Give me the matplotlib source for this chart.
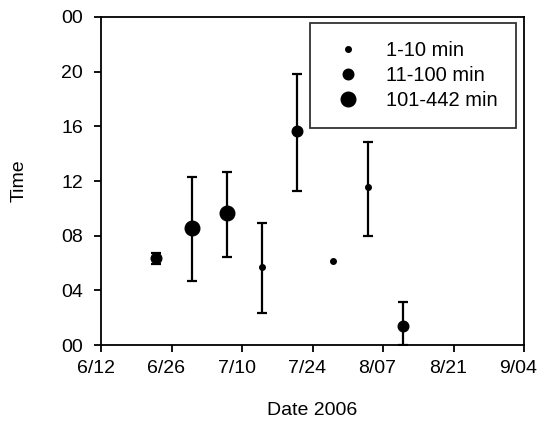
import numpy as np
import matplotlib.pyplot as plt
import matplotlib.dates as mdates
from matplotlib.transforms import ScaledTranslation

plt.rcParams['font.family'] = ['Liberation Sans', 'DejaVu Sans']

# observations: date, mean time (hours), error bar limits, duration class
dates = ['2006-06-23', '2006-06-30', '2006-07-07', '2006-07-14',
         '2006-07-21', '2006-07-28', '2006-08-04', '2006-08-11']
mean_hour = [6.34, 8.58, 9.63, 5.73, 15.65, 6.14, 11.54, 1.41]
low_hour = [5.9, 4.68, 6.42, 2.32, 11.29, np.nan, 8.0, 0.0]
high_hour = [6.7, 12.27, 12.63, 8.9, 19.8, np.nan, 14.83, 3.12]
duration_class = [1, 2, 2, 0, 1, 0, 0, 1]

class_labels = ['1-10 min', '11-100 min', '101-442 min']
class_sizes = [4.0, 7.6, 10.5]

xtick_dates = ['2006-06-12', '2006-06-26', '2006-07-10', '2006-07-24',
               '2006-08-07', '2006-08-21', '2006-09-04']
xtick_labels = ['6/12', '6/26', '7/10', '7/24', '8/07', '8/21', '9/04']
ytick_values = [0, 4, 8, 12, 16, 20, 24]
ytick_labels = ['00', '04', '08', '12', '16', '20', '00']

x = mdates.datestr2num(dates)
y = np.array(mean_hour)
lo = np.array(low_hour)
hi = np.array(high_hour)
has_err = ~np.isnan(lo)

fig = plt.figure(figsize=(5.39, 4.28), dpi=100)
ax = fig.add_axes([0.1874, 0.1939, 0.7848, 0.7664])

ax.errorbar(x[has_err], y[has_err],
            yerr=[y[has_err] - lo[has_err], hi[has_err] - y[has_err]],
            fmt='none', ecolor='black', elinewidth=1.6,
            capsize=3.6, capthick=1.6, zorder=2)
for c in range(3):
    idx = [i for i, d in enumerate(duration_class) if d == c]
    ax.plot(x[idx], y[idx], 'o', color='black', markersize=class_sizes[c],
            linestyle='none', label=class_labels[c], zorder=3, clip_on=False)

ax.set_xlim(mdates.datestr2num(xtick_dates[0]), mdates.datestr2num(xtick_dates[-1]))
ax.set_ylim(0, 24)
ax.set_xticks(mdates.datestr2num(xtick_dates))
ax.set_xticklabels(xtick_labels)
ax.set_yticks(ytick_values)
ax.set_yticklabels(ytick_labels)
ax.tick_params(axis='both', direction='out', length=5, width=1.3,
               labelsize=14, colors='black')
ax.tick_params(axis='x', pad=6)
ax.tick_params(axis='y', pad=8)
for s in ax.spines.values():
    s.set_linewidth(1.3)

# the date labels sit a little left of their ticks in the original
shift = ScaledTranslation(-0.055, 0, fig.dpi_scale_trans)
for lab in ax.get_xticklabels():
    lab.set_transform(lab.get_transform() + shift)

ax.set_xlabel('Date 2006', fontsize=14, labelpad=18)
ax.set_ylabel('Time', fontsize=14, labelpad=24)

leg = ax.legend(loc='upper right', bbox_to_anchor=(0.981, 0.982),
                borderaxespad=0, fontsize=14.5,
                frameon=True, fancybox=False, edgecolor='black',
                handlelength=2.0, handletextpad=0.9, borderpad=0.9,
                labelspacing=0.3, numpoints=1)
leg.get_frame().set_linewidth(1.3)

fig.savefig('out.png', dpi=100)
